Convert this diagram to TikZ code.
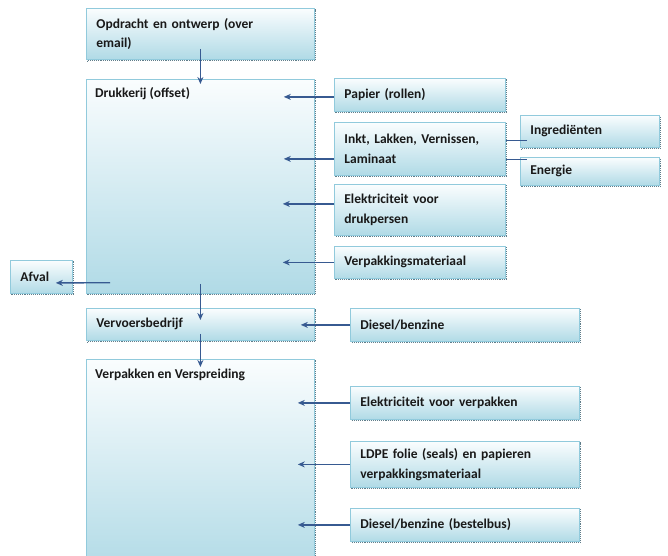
\documentclass[tikz,border=0pt]{standalone}
\usepackage{fontspec}
\setmainfont{Carlito}
\usetikzlibrary{arrows.meta,calc}
\definecolor{boxtop}{RGB}{250,253,254}
\definecolor{boxbot}{RGB}{176,218,230}
\definecolor{boxline}{RGB}{145,202,220}
\definecolor{shadowc}{RGB}{95,125,138}
\definecolor{arrowc}{RGB}{55,90,145}
\definecolor{txtc}{RGB}{25,25,25}
\begin{document}
\begin{tikzpicture}[x=1bp,y=-1bp,
  txtfont/.style={font=\bfseries\fontsize{13.5bp}{19.5bp}\selectfont, text=txtc},
  box/.style={draw=boxline, line width=0.8bp, top color=boxtop, bottom color=boxbot,
    anchor=north west, inner xsep=10bp, inner ysep=0pt, align=left, txtfont,
    preaction={draw=shadowc, densely dotted, line width=1.1bp,
      transform canvas={shift={(1.5bp,-1.5bp)}}}},
  lbl/.style={anchor=base west, inner sep=0pt, txtfont},
  arr/.style={draw=arrowc, line width=1.3bp, -{Stealth[length=7bp,width=6bp]}},
  lnk/.style={draw=arrowc, line width=1.3bp}]
\useasboundingbox (0,0) rectangle (668,556);

% left column
\node[box, text width=208bp, minimum height=51bp] (opd) at (86,8) {Opdracht en ontwerp (over\\email)};
\node[box, minimum width=228bp, minimum height=214bp] (druk) at (86,79) {};
\node[lbl] (drukt) at ([shift={(9bp,-19bp)}]druk.north west) {Drukkerij (offset)};
\node[box, text width=208bp, minimum height=32bp] (verv) at (86,308) {Vervoersbedrijf};
\node[box, minimum width=228bp, minimum height=215bp] (verp) at (86,359) {};
\node[lbl] (verpt) at ([shift={(9bp,-19bp)}]verp.north west) {Verpakken en Verspreiding};
\node[box, text width=42bp, minimum height=33bp] (afval) at (10,260) {Afval};

% inputs printing
\node[box, text width=151bp, minimum height=33bp] (pap) at (334,78) {Papier (rollen)};
\node[box, text width=151bp, minimum height=53bp] (inkt) at (334,122) {Inkt, Lakken, Vernissen,\\Laminaat};
\node[box, text width=119bp, minimum height=32bp] (ingr) at (520,115) {Ingrediënten};
\node[box, text width=119bp, minimum height=28bp] (ener) at (520,157) {Energie};
\node[box, text width=151bp, minimum height=51bp] (elek) at (334,184) {Elektriciteit voor\\drukpersen};
\node[box, text width=151bp, minimum height=32bp] (verpm) at (334,246) {Verpakkingsmateriaal};

% inputs transport / packing
\node[box, text width=209bp, minimum height=33bp] (dies) at (350,308) {Diesel/benzine};
\node[box, text width=209bp, minimum height=33bp] (elv) at (350,386) {Elektriciteit voor verpakken};
\node[box, text width=209bp, minimum height=46bp] (ldpe) at (350,441) {LDPE folie (seals) en papieren\\verpakkingsmateriaal};
\node[box, text width=209bp, minimum height=33bp] (dbus) at (350,508) {Diesel/benzine (bestelbus)};

% connectors
\draw[arr] ([yshift=11bp]opd.south) -- ([yshift=-5bp]druk.north);
\draw[arr] ([yshift=-2bp]pap.west) -- ([shift={(-31bp,-2bp)}]pap.west -| druk.east);
\draw[arr] ([yshift=-10bp]inkt.west) -- ([shift={(-31bp,-10bp)}]inkt.west -| druk.east);
\draw[lnk] ([yshift=-9bp]ingr.west -| inkt.east) -- ([shift={(7bp,-9bp)}]ingr.west);
\draw[lnk] ([yshift=12bp]ener.west -| inkt.east) -- ([shift={(7bp,12bp)}]ener.west);
\draw[arr] ([yshift=6bp]elek.west) -- ([shift={(-32bp,6bp)}]elek.west -| druk.east);
\draw[arr] (verpm.west) -- ([xshift=-32bp]verpm.west -| druk.east);
\draw[arr] ([shift={(24bp,11bp)}]druk.south west) -- ([shift={(-17bp,-6bp)}]afval.east);
\draw[arr] ([yshift=10bp]druk.south) -- ([yshift=-12bp]verv.north);
\draw[arr] ([yshift=7bp]verv.south) -- ([yshift=-8bp]verp.north);
\draw[arr] (dies.west) -- ([xshift=-14bp]dies.west -| verv.east);
\draw[arr] (elv.west) -- ([xshift=-17bp]elv.west -| verp.east);
\draw[arr] (ldpe.west) -- ([xshift=-17bp]ldpe.west -| verp.east);
\draw[arr] (dbus.west) -- ([xshift=-17bp]dbus.west -| verp.east);
\end{tikzpicture}
\end{document}
